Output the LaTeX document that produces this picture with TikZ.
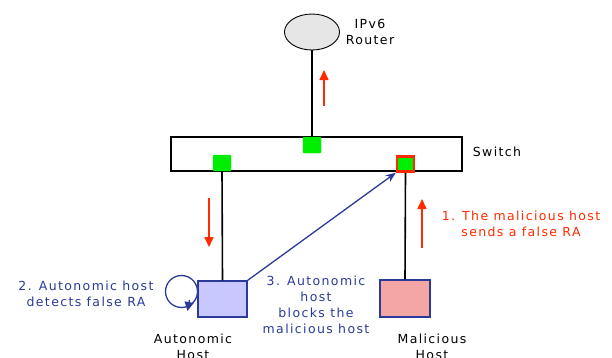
\documentclass[tikz,border=0pt]{standalone}
\usepackage{fontspec}
\setmainfont{DejaVu Sans}[LetterSpace=11]
\usetikzlibrary{arrows.meta,shapes.geometric}
\definecolor{navy}{HTML}{2B3A99}
\definecolor{rd}{HTML}{FF2A00}
\definecolor{grn}{HTML}{00EE00}
\definecolor{autofill}{HTML}{C8C8FF}
\definecolor{malfill}{HTML}{F4A6A4}
\definecolor{routerfill}{HTML}{E6E6E6}
\begin{document}
\begin{tikzpicture}[x=1pt,y=-1pt,
  lbl/.style={font=\fontsize{12.5}{16}\selectfont, align=center, inner sep=0pt},
  port/.style={draw=grn, fill=grn, rounded corners=1pt, minimum width=18pt, minimum height=16pt, inner sep=0pt},
  hostbox/.style={draw=navy, line width=1.3pt, minimum width=49pt, minimum height=36pt, inner sep=0pt},
  wire/.style={black, line width=1.6pt},
  redarrow/.style={rd, line width=1.6pt, -{Triangle[length=10pt,width=9pt]}},
  bluearrow/.style={navy, line width=1.3pt, -{Stealth[length=10pt,width=8pt]}},
  looptip/.style={navy, line width=1.3pt, -{Triangle[length=9pt,width=9pt]}}
]
\useasboundingbox (0,0) rectangle (612,357);

% router
\node[ellipse, draw=black, line width=0.9pt, fill=routerfill, minimum width=55pt, minimum height=36pt, inner sep=0pt] (router) at (312,32) {};
\node[lbl] (routerlbl) at (370,32) {IPv6\\Router};

% switch
\node[draw=black, line width=1.3pt, minimum width=291pt, minimum height=34pt, inner sep=0pt] (switch) at (316.5,154) {};
\node[lbl] (switchlbl) at (497,152) {Switch};

% ports
\node[port] (ptop) at (312,145) {};
\node[port] (pleft) at (222,163) {};
\node[port, draw=rd, line width=2.5pt, rounded corners=0pt, minimum width=17pt, minimum height=15pt] (pright) at (405.5,164) {};

% hosts
\node[hostbox, fill=autofill] (auto) at (222.5,299) {};
\node[hostbox, fill=malfill, minimum width=50pt, minimum height=37pt] (mal) at (405,298.5) {};

% wires
\draw[wire] (router.south) -- (ptop.north);
\draw[wire] (pleft.south) -- (auto.north);
\draw[wire] (pright.south) -- (mal.north);

% red arrows
\coordinate (r1a) at (324,106); \coordinate (r1b) at (324,70);
\coordinate (r2a) at (209,198); \coordinate (r2b) at (209,247);
\coordinate (r3a) at (422,248); \coordinate (r3b) at (422,199);
\draw[redarrow] (r1a) -- (r1b);
\draw[redarrow] (r2a) -- (r2b);
\draw[redarrow] (r3a) -- (r3b);

% blue arrow
\draw[bluearrow] (auto.north east) -- (pright.south west);

% self loop (clockwise, arrowhead at lower right)
\coordinate (loopc) at (181.5,291.5);
\draw[navy, line width=1.3pt] (loopc) circle[radius=16pt];
\coordinate (loopa) at (189.5,300);
\coordinate (loopb) at (187.5,311);
\draw[looptip] (loopa) -- (loopb);

% labels
\node[lbl, text=navy] (l2) at (86,293.5) {2. Autonomic host\\detects false RA};
\node[lbl, text=navy] (l3) at (316,304.5) {3. Autonomic\\host\\blocks the\\malicious host};
\node[lbl, text=rd] (l1) at (521,224) {1. The malicious host\\sends a false RA};
\node[lbl] (autolbl) at (193,346.5) {Autonomic\\Host};
\node[lbl] (mallbl) at (432,346.5) {Malicious\\Host};
\end{tikzpicture}
\end{document}
